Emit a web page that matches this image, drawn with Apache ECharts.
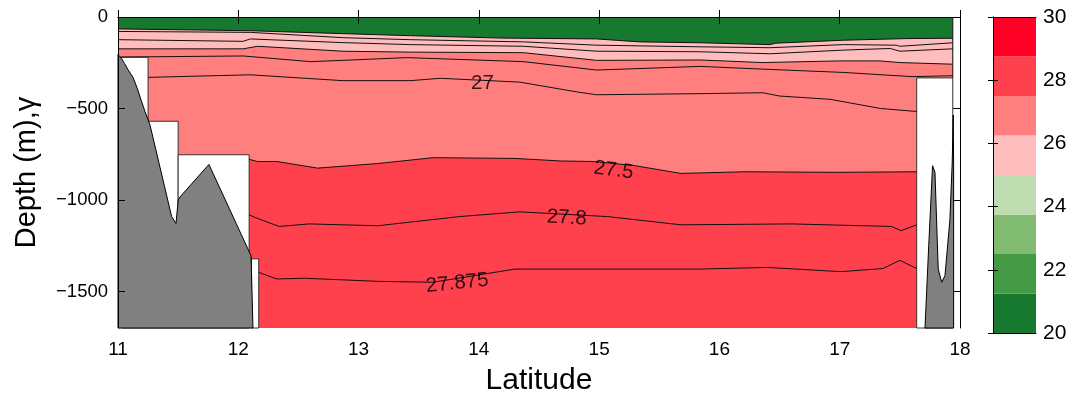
<!DOCTYPE html>
<html>
<head>
<meta charset="utf-8">
<script src="https://cdn.jsdelivr.net/npm/echarts@6/dist/echarts.min.js"></script>
<style>html,body{margin:0;padding:0;background:#fff}#c{width:1076px;height:401px}</style>
</head>
<body>
<div id="c"></div>
<script>
// ---- data ----
const latTicks = [11, 12, 13, 14, 15, 16, 17, 18];
const depthTicks = [0, -500, -1000, -1500];
const cbTicks = [20, 22, 24, 26, 28, 30];
const cbEdges = [20, 21.25, 22.5, 23.75, 25, 26.25, 27.5, 28.75, 30];
const cbColors = ['#177830', '#449945', '#81BB72', '#BFDCB0', '#FFBDBD', '#FF7F7F', '#FF414E', '#FF0027'];

const surface = [[11, 0], [17.94, 0]];
const iso_top = [[11.0,-65],[12.1,-75],[12.87,-91],[13.43,-102],[14.18,-115],[14.98,-120],[15.34,-136],[15.84,-141],[16.42,-151],[16.47,-143],[17.03,-127],[17.56,-118],[17.94,-116]];
const iso_a = [[11.0,-79],[12.1,-84],[12.87,-113],[13.43,-124],[14.37,-136],[14.98,-154],[15.84,-163],[16.42,-168],[17.03,-151],[17.47,-154],[17.5,-160],[17.94,-141]];
const iso_b = [[11.0,-124],[12.04,-133],[12.1,-120],[12.87,-140],[13.43,-151],[14.37,-160],[14.98,-187],[15.84,-190],[16.42,-201],[17.03,-181],[17.42,-172],[17.5,-187],[17.94,-174]];
const iso_c = [[11.0,-174],[12.04,-174],[12.16,-160],[12.87,-187],[13.43,-192],[14.37,-195],[14.98,-237],[15.84,-235],[16.36,-249],[17.0,-240],[17.33,-240],[17.5,-249],[17.94,-258]];
const iso_d = [[11.0,-219],[12.04,-213],[12.6,-244],[12.87,-237],[13.4,-222],[14.37,-244],[14.98,-290],[15.84,-270],[16.36,-285],[17.03,-303],[17.6,-326],[17.94,-321]];
const iso_27 = [[11.25,-330],[12.1,-316],[12.87,-348],[13.43,-348],[13.68,-335],[14.34,-356],[14.82,-410],[14.98,-425],[15.84,-419],[16.36,-414],[16.5,-432],[16.92,-450],[17.34,-500],[17.61,-515],[17.64,-516]];
const iso_275 = [[12.09,-778],[12.16,-790],[12.32,-790],[12.66,-826],[13.16,-801],[13.62,-769],[14.3,-773],[14.68,-787],[14.96,-790],[15.3,-813],[15.68,-855],[16.21,-846],[16.98,-849],[17.64,-846]];
const iso_278 = [[12.09,-1082],[12.16,-1101],[12.34,-1145],[12.59,-1131],[13.16,-1141],[13.84,-1091],[14.34,-1065],[15.07,-1091],[15.68,-1136],[16.6,-1131],[17.43,-1145],[17.51,-1168],[17.64,-1136]];
const iso_27875 = [[12.17,-1396],[12.32,-1432],[12.55,-1428],[13.16,-1445],[13.62,-1450],[14.3,-1378],[15.83,-1378],[16.4,-1369],[17.01,-1392],[17.36,-1375],[17.5,-1330],[17.64,-1375]];
const eastEdge = [[17.94, 0], [17.94, -333]];

// no-data gaps: [west lat, east lat, top depth]
const gapBoxes = [[11.03,11.25,-220],[11.25,11.5,-570],[11.5,12.09,-753],[12.11,12.17,-1322],[17.64,17.94,-333]];

const ridgeWest = [[11.0,-205],[11.03,-228],[11.055,-255],[11.085,-290],[11.125,-330],[11.16,-390],[11.19,-450],[11.224,-516],[11.266,-590],[11.446,-1091],[11.482,-1129],[11.501,-1000],[11.515,-984],[11.756,-806],[12.081,-1269],[12.106,-1306],[12.122,-1700],[11.0,-1700]];
const ridgeEast = [[17.709,-1700],[17.74,-1250],[17.772,-813],[17.792,-849],[17.819,-1378],[17.848,-1450],[17.875,-1414],[17.916,-1109],[17.935,-800],[17.944,-536],[17.947,-800],[17.947,-1700]];

const contourLabels = [
  [14.03, -365, '27', 0],
  [15.12, -838, '27.5', -8],
  [14.73, -1098, '27.8', -3],
  [13.82, -1455, '27.875', 6]
];

// ---- chart ----
const FONT = 'Liberation Sans, Arial, Helvetica, sans-serif';
const chart = echarts.init(document.getElementById('c'), null, {renderer: 'canvas'});
const minus = v => (v < 0 ? '\u2212' + (-v) : String(v));

function fillSeries(data, color) {
  return {type: 'line', data, xAxisIndex: 0, yAxisIndex: 0, showSymbol: false, symbol: 'none', z: 1,
    lineStyle: {width: 0}, areaStyle: {color, opacity: 1, origin: 'start'}, silent: true, animation: false};
}
function isoSeries(data) {
  return {type: 'line', data, xAxisIndex: 0, yAxisIndex: 0, showSymbol: false, symbol: 'none', z: 4,
    lineStyle: {width: 1, color: '#111'}, silent: true, animation: false};
}
function polySeries(polys, fill) {
  return {type: 'custom', xAxisIndex: 0, yAxisIndex: 0, silent: true, animation: false, z: 5,
    data: polys.map((p, i) => [p[0][0], p[0][1], i]), encode: {x: 0, y: 1},
    renderItem(params, api) {
      const poly = polys[api.value(2)];
      return {type: 'polygon', shape: {points: poly.map(p => api.coord(p))},
        style: {fill, stroke: '#000', lineWidth: 1}};
    }};
}

const axisLineStyle = {show: true, lineStyle: {color: '#000', width: 1}};
const tickStyle = {show: true, inside: true, length: 7, lineStyle: {color: '#000', width: 1}};
const labelStyle = {color: '#000', fontSize: 19, fontFamily: FONT};

const option = {
  backgroundColor: '#fff',
  animation: false,
  grid: [
    {left: 118, top: 17, width: 842, height: 316},
    {left: 993, top: 17, width: 43, height: 316}
  ],
  xAxis: [
    {gridIndex: 0, type: 'value', min: 11, max: 18, interval: 1, position: 'bottom', z: 10,
      axisLine: axisLineStyle, axisTick: tickStyle, splitLine: {show: false},
      axisLabel: Object.assign({margin: 12}, labelStyle),
      name: 'Latitude', nameLocation: 'middle', nameGap: 38,
      nameTextStyle: {color: '#000', fontSize: 30, fontFamily: FONT}},
    {gridIndex: 0, type: 'value', min: 11, max: 18, interval: 1, position: 'top', z: 10,
      axisLine: axisLineStyle, axisTick: tickStyle, splitLine: {show: false}, axisLabel: {show: false}},
    {gridIndex: 1, type: 'value', min: 0, max: 1, position: 'bottom', z: 10,
      axisLine: axisLineStyle, axisTick: {show: false}, axisLabel: {show: false}, splitLine: {show: false}},
    {gridIndex: 1, type: 'value', min: 0, max: 1, position: 'top', z: 10,
      axisLine: axisLineStyle, axisTick: {show: false}, axisLabel: {show: false}, splitLine: {show: false}}
  ],
  yAxis: [
    {gridIndex: 0, type: 'value', min: -1700, max: 0, position: 'left', z: 10,
      axisLine: axisLineStyle, splitLine: {show: false},
      axisTick: Object.assign({customValues: depthTicks}, tickStyle),
      axisLabel: Object.assign({customValues: depthTicks, formatter: minus, margin: 10}, labelStyle, {fontSize: 18.5}),
      name: 'Depth (m),\u03b3', nameLocation: 'middle', nameGap: 77, nameRotate: 90,
      nameTextStyle: {color: '#000', fontSize: 29, fontFamily: FONT}},
    {gridIndex: 0, type: 'value', min: -1700, max: 0, position: 'right', z: 10,
      axisLine: axisLineStyle, splitLine: {show: false},
      axisTick: Object.assign({customValues: depthTicks}, tickStyle),
      axisLabel: {show: false}},
    {gridIndex: 1, type: 'value', min: 20, max: 30, interval: 2, position: 'right', z: 10,
      axisLine: axisLineStyle, splitLine: {show: false},
      axisTick: Object.assign({}, tickStyle, {length: 5}),
      axisLabel: Object.assign({margin: 7}, labelStyle, {fontSize: 21})},
    {gridIndex: 1, type: 'value', min: 20, max: 30, interval: 2, position: 'left', z: 10,
      axisLine: axisLineStyle, splitLine: {show: false},
      axisTick: Object.assign({}, tickStyle, {length: 5}), axisLabel: {show: false}}
  ],
  series: [
    fillSeries(surface, cbColors[0]),
    fillSeries(iso_top, cbColors[4]),
    fillSeries(iso_c, cbColors[5]),
    fillSeries(iso_275, cbColors[6]),
    {type: 'custom', xAxisIndex: 0, yAxisIndex: 0, silent: true, animation: false, z: 3,
      data: gapBoxes, encode: {x: [0, 1], y: 2},
      renderItem(params, api) {
        const p0 = api.coord([api.value(0), api.value(2)]);
        const p1 = api.coord([api.value(1), -1700]);
        return {type: 'rect', shape: {x: p0[0], y: p0[1], width: p1[0] - p0[0], height: p1[1] - p0[1]},
          style: {fill: '#fff', stroke: '#222', lineWidth: 0.9}};
      }},
    isoSeries(iso_top), isoSeries(iso_a), isoSeries(iso_b), isoSeries(iso_c), isoSeries(iso_d),
    isoSeries(iso_27), isoSeries(iso_275), isoSeries(iso_278), isoSeries(iso_27875), isoSeries(eastEdge),
    polySeries([ridgeWest, ridgeEast], '#808080'),
    {type: 'scatter', xAxisIndex: 0, yAxisIndex: 0, symbolSize: 1, itemStyle: {color: 'rgba(0,0,0,0)'}, silent: true, z: 6,
      data: contourLabels.map(d => ({value: [d[0], d[1]], name: d[2], label: {rotate: d[3]}})),
      label: {show: true, position: 'inside', formatter: p => p.name, color: '#000', fontSize: 20.5, fontFamily: FONT}},
    {type: 'custom', xAxisIndex: 2, yAxisIndex: 2, silent: true, animation: false,
      data: cbColors.map((c, i) => [0, cbEdges[i], cbEdges[i + 1], i]), encode: {x: 0, y: [1, 2]},
      renderItem(params, api) {
        const p0 = api.coord([0, api.value(2)]);
        const p1 = api.coord([1, api.value(1)]);
        return {type: 'rect', shape: {x: p0[0], y: p0[1], width: p1[0] - p0[0], height: p1[1] - p0[1]},
          style: {fill: cbColors[api.value(3)]}};
      }}
  ]
};
chart.setOption(option);
</script>
</body>
</html>
